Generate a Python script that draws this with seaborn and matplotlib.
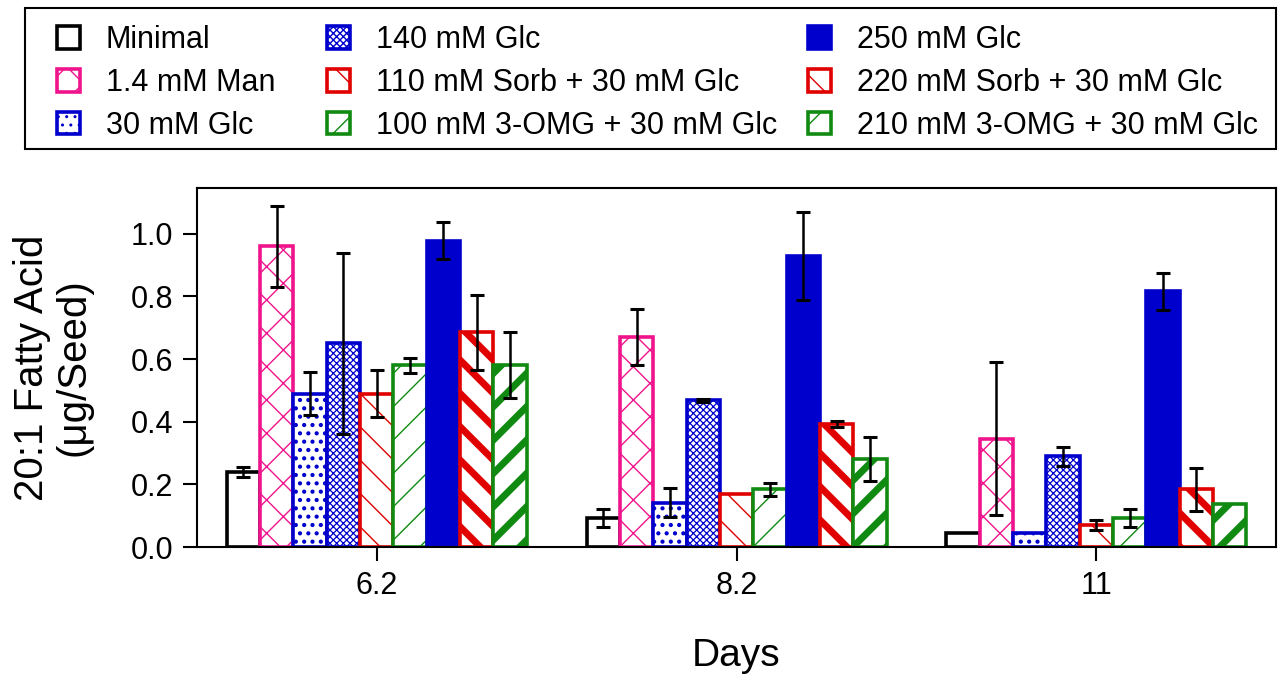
import numpy as np
import pandas as pd
import matplotlib
matplotlib.use("Agg")
import matplotlib.pyplot as plt
from matplotlib.patches import Rectangle
import seaborn as sns

# ------------------------------------------------------------
# Data (20:1 fatty acid, ug/seed)
# ------------------------------------------------------------
days = ["6.2", "8.2", "11"]

treatments = [
    "Minimal",
    "1.4 mM Man",
    "30 mM Glc",
    "140 mM Glc",
    "110 mM Sorb + 30 mM Glc",
    "100 mM 3-OMG + 30 mM Glc",
    "250 mM Glc",
    "220 mM Sorb + 30 mM Glc",
    "210 mM 3-OMG + 30 mM Glc",
]

minimal = [0.24, 0.093, 0.046]
man = [0.96, 0.67, 0.346]
glc30 = [0.49, 0.142, 0.046]
glc140 = [0.65, 0.468, 0.29]
sorb110 = [0.49, 0.168, 0.07]
omg100 = [0.58, 0.184, 0.093]
glc250 = [0.978, 0.93, 0.816]
sorb220 = [0.686, 0.394, 0.184]
omg210 = [0.582, 0.282, 0.136]

minimal_err = [0.015, 0.03, 0.0]
man_err = [0.13, 0.09, 0.245]
glc30_err = [0.07, 0.045, 0.0]
glc140_err = [0.29, 0.005, 0.03]
sorb110_err = [0.075, 0.0, 0.015]
omg100_err = [0.025, 0.02, 0.03]
glc250_err = [0.06, 0.14, 0.058]
sorb220_err = [0.12, 0.01, 0.07]
omg210_err = [0.105, 0.07, 0.0]

values = [minimal, man, glc30, glc140, sorb110, omg100, glc250, sorb220, omg210]
errors = [minimal_err, man_err, glc30_err, glc140_err, sorb110_err,
          omg100_err, glc250_err, sorb220_err, omg210_err]

# colours / fills per treatment
pink, blue, red, green = "#f0148c", "#0000cc", "#e00000", "#108a10"
edge_colors = ["black", pink, blue, blue, red, green, blue, red, green]
face_colors = ["white", "white", "white", "white", "white", "white", blue, "white", "white"]
hatches = [None, "x", "..", "xxxxx", "\\", "/", None, "\\", "/"]
hatch_lw = [1.0, 1.0, 1.8, 0.9, 1.0, 1.0, 1.0, 5.0, 5.0]

df = pd.DataFrame(
    [(d, t, v[i]) for t, v in zip(treatments, values) for i, d in enumerate(days)],
    columns=["Days", "Treatment", "Value"],
)

# ------------------------------------------------------------
# Plot
# ------------------------------------------------------------
sns.set_style("ticks")
plt.rcParams["font.family"] = ["Liberation Sans", "DejaVu Sans"]
plt.rcParams["text.color"] = "black"
plt.rcParams["axes.labelcolor"] = "black"
plt.rcParams["xtick.color"] = "black"
plt.rcParams["ytick.color"] = "black"

fig = plt.figure(figsize=(12.79, 6.83), dpi=100)
ax = fig.add_axes([0.154, 0.199, 0.8437, 0.5257])

sns.barplot(data=df, x="Days", y="Value", hue="Treatment", order=days,
            hue_order=treatments, palette=face_colors, width=0.834, gap=0,
            errorbar=None, legend=False, ax=ax)

bar_containers = list(ax.containers)
for i, cont in enumerate(bar_containers):
    for p in cont.patches:
        p.set_facecolor(face_colors[i])
        p.set_edgecolor(edge_colors[i])
        p.set_linewidth(2.6)
        if hatches[i]:
            p.set_hatch(hatches[i])
        if hasattr(p, "set_hatch_linewidth"):
            p.set_hatch_linewidth(hatch_lw[i])

# error bars from the bar positions
for i, cont in enumerate(bar_containers):
    xs = [p.get_x() + p.get_width() / 2 for p in cont.patches]
    ys = [p.get_height() for p in cont.patches]
    keep = [j for j, e in enumerate(errors[i]) if e > 0]
    ax.errorbar([xs[j] for j in keep], [ys[j] for j in keep],
                yerr=[errors[i][j] for j in keep], fmt="none", ecolor="black",
                elinewidth=1.8, capsize=5, capthick=2.2, zorder=5)

ax.set_xlim(-0.5, 2.5)
ax.set_ylim(0, 1.146)
ax.set_yticks([0.0, 0.2, 0.4, 0.6, 0.8, 1.0])
ax.set_yticklabels(["0.0", "0.2", "0.4", "0.6", "0.8", "1.0"])
ax.tick_params(axis="both", labelsize=22, length=10, width=1.5, pad=7)
ax.set_xlabel("Days", fontsize=28, labelpad=27)
ax.set_ylabel("20:1 Fatty Acid\n(\u03bcg/Seed)", fontsize=29, linespacing=1.1)
ax.yaxis.set_label_coords(-0.097, 0.5)
for s in ax.spines.values():
    s.set_visible(True)
    s.set_linewidth(1.5)
    s.set_color("black")

# legend: frame drawn separately, one legend per column
fig.patches.append(Rectangle((25 / 1279, 1 - 149 / 683), 1251 / 1279, 141 / 683,
                             transform=fig.transFigure, fill=False,
                             edgecolor="black", linewidth=1.5))
col_x = [57 / 1279, 327 / 1279, 808 / 1279]
for c in range(3):
    fig.legend(handles=bar_containers[3 * c:3 * c + 3],
               labels=treatments[3 * c:3 * c + 3],
               loc="upper left", bbox_to_anchor=(col_x[c], 0.963),
               borderaxespad=0, borderpad=0, frameon=False, fontsize=22,
               handlelength=0.75, handleheight=0.75, handletextpad=0.85,
               labelspacing=0.42)

plt.savefig("out.png", dpi=100)
